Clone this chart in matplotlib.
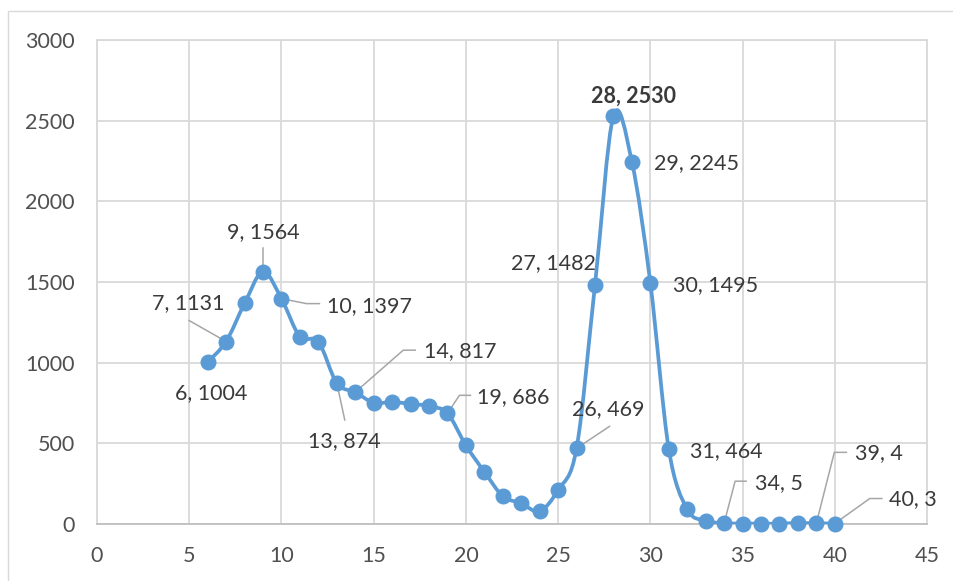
import numpy as np
import matplotlib
matplotlib.use("Agg")
import matplotlib.pyplot as plt
from matplotlib.path import Path
from matplotlib.patches import PathPatch, Rectangle
from matplotlib.lines import Line2D
from matplotlib import transforms

# ---- data ----
days = list(range(6, 41))
counts = [1004, 1131, 1367, 1564, 1397, 1161, 1130, 874, 817, 752,
          756, 744, 731, 686, 487, 324, 173, 128, 80, 211,
          469, 1482, 2530, 2245, 1495, 464, 91, 21, 5, 3,
          2, 2, 6, 4, 3]
labeled_days = [6, 7, 9, 10, 13, 14, 19, 26, 27, 28, 29, 30, 31, 34, 39, 40]
bold_days = [28]
x_ticks = list(range(0, 46, 5))
y_ticks = list(range(0, 3001, 500))

# ---- label placement (pixel offsets from the point, y up) ----
label_offsets = {6: (4, -31), 7: (-38, 38), 9: (0, 40), 10: (88, -7),
                 13: (8, -58), 14: (105, 41), 19: (66, 16), 26: (32, 39),
                 27: (-42, 22), 28: (20, 20), 29: (65, -1), 30: (65, -2),
                 31: (58, -2), 34: (55, 40), 39: (63, 70), 40: (78, 24)}
leader_paths = {7: [(0, 0), (-37, 21)],
                9: [(0, 0), (0, 24)],
                10: [(0, 0), (25, -5), (38, -5)],
                13: [(0, 0), (8, -37)],
                14: [(0, 0), (48, 42), (60, 42)],
                19: [(0, 0), (12, 18), (23, 18)],
                26: [(0, 0), (33, 22)],
                34: [(0, 0), (11, 42), (22, 42)],
                39: [(0, 0), (18, 71), (30, 71)],
                40: [(0, 0), (35, 25), (47, 25)]}

BLUE = "#5B9BD5"
FONT = ["Lato", "DejaVu Sans"]
plt.rcParams["font.family"] = FONT

fig = plt.figure(figsize=(9.54, 5.81), dpi=100)
W, H = 954, 581
ax = fig.add_axes([97 / W, 1 - 524 / H, 830 / W, 484 / H])

# chart frame
fig.patches.append(Rectangle((8 / W, -0.1), 1.2, 1 - 11 / H + 0.1,
                             transform=fig.transFigure, fill=False,
                             ec="#D9D9D9", lw=1.0))

ax.set_xlim(0, 45)
ax.set_ylim(0, 3000)
ax.set_xticks(x_ticks)
ax.set_yticks(y_ticks)
ax.grid(True, color="#D9D9D9", lw=1.3, zorder=0)
ax.set_axisbelow(True)
for side in ["left", "top", "right"]:
    ax.spines[side].set_color("#D9D9D9")
    ax.spines[side].set_linewidth(1.3)
ax.spines["bottom"].set_color("#BFBFBF")
ax.spines["bottom"].set_linewidth(1.3)
ax.tick_params(length=0, labelsize=15.5, labelcolor="#505050")
ax.tick_params(axis="y", pad=16)
ax.tick_params(axis="x", pad=16)

# smoothed line (Catmull-Rom bezier through every point)
pts = np.column_stack([days, counts]).astype(float)
ext = np.vstack([pts[0], pts, pts[-1]])
verts = [pts[0]]
codes = [Path.MOVETO]
for i in range(len(pts) - 1):
    p0, p1, p2, p3 = ext[i], ext[i + 1], ext[i + 2], ext[i + 3]
    verts += [p1 + (p2 - p0) / 6, p2 - (p3 - p1) / 6, p2]
    codes += [Path.CURVE4] * 3
ax.add_patch(PathPatch(Path(verts, codes), fill=False, ec=BLUE, lw=2.7,
                       zorder=3, capstyle="round", joinstyle="round"))
ax.plot(days, counts, "o", ms=10.5, color=BLUE, zorder=4, clip_on=False)

# data labels with leader lines
scale = fig.dpi / 100.0
for d in labeled_days:
    v = counts[days.index(d)]
    if d in leader_paths:
        xs, ys = zip(*leader_paths[d])
        tr = (transforms.Affine2D().scale(scale)
              + transforms.ScaledTranslation(d, v, ax.transData))
        ax.add_line(Line2D(xs, ys, transform=tr, color="#A6A6A6", lw=1.1,
                           zorder=2, clip_on=False))
    dx, dy = label_offsets[d]
    ax.annotate(f"{d}, {v}", xy=(d, v), xytext=(dx * 0.72, dy * 0.72),
                textcoords="offset points", ha="center", va="center",
                fontsize=15.5, color="#3A3A3A",
                fontweight="bold" if d in bold_days else "normal",
                zorder=5, annotation_clip=False)

fig.savefig("out.png", dpi=100)
